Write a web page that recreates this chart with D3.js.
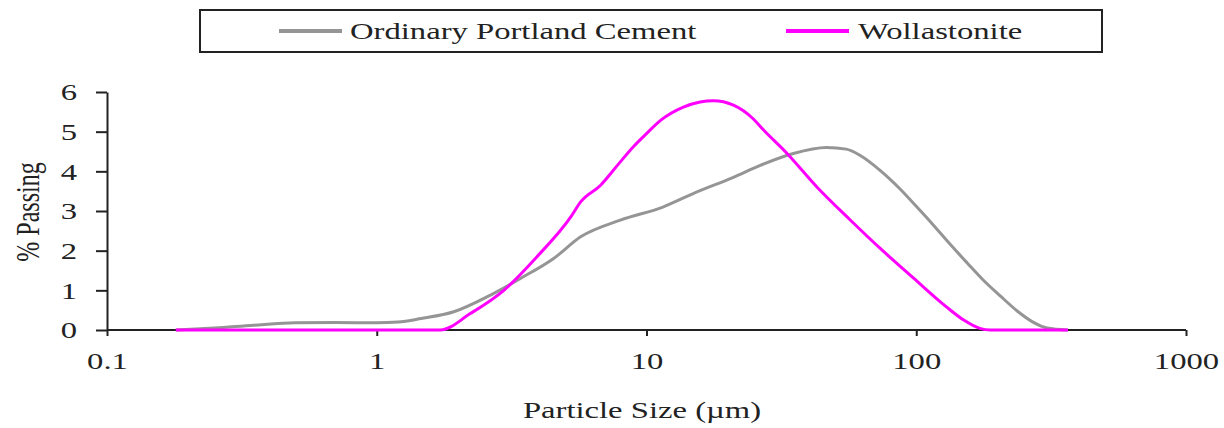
<!DOCTYPE html>
<html>
<head>
<meta charset="utf-8">
<script src="https://cdn.jsdelivr.net/npm/d3@7/dist/d3.min.js"></script>
<style>
  html, body { margin: 0; padding: 0; background: #fff; }
  svg text { font-family: "Liberation Serif", "DejaVu Serif", serif; fill: #222; }
</style>
</head>
<body>
<svg id="chart" width="1224" height="428"></svg>
<script>
// Particle size distributions (size in µm, % passing)
const opcSize = [0.18, 0.25, 0.35, 0.5, 0.7, 1.0, 1.2, 1.46, 1.93, 2.57, 3.41, 4.54, 5.7, 8.0, 11.5, 14.9, 21, 26.4, 35, 46.5, 55, 62, 73.6, 87.3, 100, 115.6, 133.6, 154.5, 177, 204.8, 236.7, 271, 305.6, 365];
const opcVals = [0, 0.05, 0.12, 0.18, 0.19, 0.18, 0.2, 0.29, 0.46, 0.84, 1.3, 1.81, 2.35, 2.77, 3.1, 3.44, 3.85, 4.15, 4.45, 4.6, 4.56, 4.4, 4.02, 3.55, 3.12, 2.65, 2.16, 1.69, 1.26, 0.86, 0.48, 0.2, 0.05, 0];

const wolSize = [0.18, 0.5, 1.0, 1.72, 2.23, 2.96, 3.93, 5.24, 5.7, 6.76, 7.8, 8.94, 10, 11.3, 13.7, 15.8, 17.7, 21, 24.9, 27, 33.2, 42.9, 56.8, 73.7, 98, 129, 150, 172, 188, 250, 365];
const wolVals = [0, 0, 0, 0, 0.42, 1.0, 1.85, 2.85, 3.23, 3.65, 4.15, 4.62, 4.95, 5.29, 5.62, 5.75, 5.78, 5.67, 5.32, 5.06, 4.45, 3.6, 2.78, 2.05, 1.3, 0.59, 0.25, 0.04, 0, 0, 0];

const xTicks = [0.1, 1, 10, 100, 1000];
const xTickLabels = ["0.1", "1", "10", "100", "1000"];
const yTicks = [0, 1, 2, 3, 4, 5, 6];

const seriesNames = ["Ordinary Portland Cement", "Wollastonite"];
const seriesColors = ["#959595", "#ff00ff"];

// the source figure is stretched sideways, so text is too
const sx = 1.42;

const svg = d3.select("#chart");

const x = d3.scaleLog().domain([0.1, 1000]).range([107, 1186]);
const y = d3.scaleLinear().domain([0, 6]).range([330, 92]);

// axes
const xAxis = svg.append("g")
    .attr("transform", `translate(0,${y(0)})`)
    .call(d3.axisBottom(x).tickValues(xTicks).tickSize(6).tickSizeOuter(0)
        .tickFormat((d, i) => xTickLabels[i]));
xAxis.select(".domain").attr("stroke", "#222").attr("stroke-width", 2)
    .attr("d", `M${x(0.1)},0H${x(1000)}`);
xAxis.selectAll(".tick line").attr("stroke", "#222").attr("stroke-width", 2);
xAxis.selectAll(".tick text")
    .attr("font-size", 23).attr("dy", 0).attr("y", 39)
    .attr("transform", `scale(${sx},1)`);

const yAxis = svg.append("g")
    .attr("transform", `translate(${x(0.1)},0)`)
    .call(d3.axisLeft(y).tickValues(yTicks).tickSize(11).tickSizeOuter(0).tickFormat(d3.format("d")));
yAxis.select(".domain").attr("stroke", "#222").attr("stroke-width", 2);
yAxis.selectAll(".tick line").attr("stroke", "#222").attr("stroke-width", 2);
yAxis.selectAll(".tick text")
    .attr("font-size", 23).attr("x", -30 / sx).attr("dy", "0.34em")
    .attr("transform", `scale(${sx},1)`);
svg.selectAll(".tick text").attr("font-family", "Liberation Serif").attr("fill", "#222");

// curves
const line = d3.line()
    .x(d => x(d[0]))
    .y(d => y(d[1]))
    .curve(d3.curveMonotoneX);

svg.append("path")
    .datum(d3.zip(opcSize, opcVals))
    .attr("fill", "none")
    .attr("stroke", seriesColors[0])
    .attr("stroke-width", 3)
    .attr("d", line);

svg.append("path")
    .datum(d3.zip(wolSize, wolVals))
    .attr("fill", "none")
    .attr("stroke", seriesColors[1])
    .attr("stroke-width", 3)
    .attr("d", line);

// axis titles
svg.append("text")
    .attr("transform", `translate(642,418) scale(${sx},1)`)
    .attr("text-anchor", "middle")
    .attr("font-size", 23)
    .text("Particle Size (µm)");

svg.append("text")
    .attr("transform", `translate(39,212) rotate(-90) scale(1,${sx})`)
    .attr("text-anchor", "middle")
    .attr("font-size", 24)
    .text("% Passing");

// legend
const legend = svg.append("g");
legend.append("rect")
    .attr("x", 200).attr("y", 10).attr("width", 902).attr("height", 42)
    .attr("fill", "#fff").attr("stroke", "#222").attr("stroke-width", 2);

const legendItems = [
    {lx: 279, tx: 350},
    {lx: 786, tx: 858}
];
legendItems.forEach((it, i) => {
    legend.append("line")
        .attr("x1", it.lx).attr("x2", it.lx + 63)
        .attr("y1", 31).attr("y2", 31)
        .attr("stroke", seriesColors[i]).attr("stroke-width", 4);
    legend.append("text")
        .attr("transform", `translate(${it.tx},39) scale(${sx},1)`)
        .attr("font-size", 23)
        .text(seriesNames[i]);
});
</script>
</body>
</html>
